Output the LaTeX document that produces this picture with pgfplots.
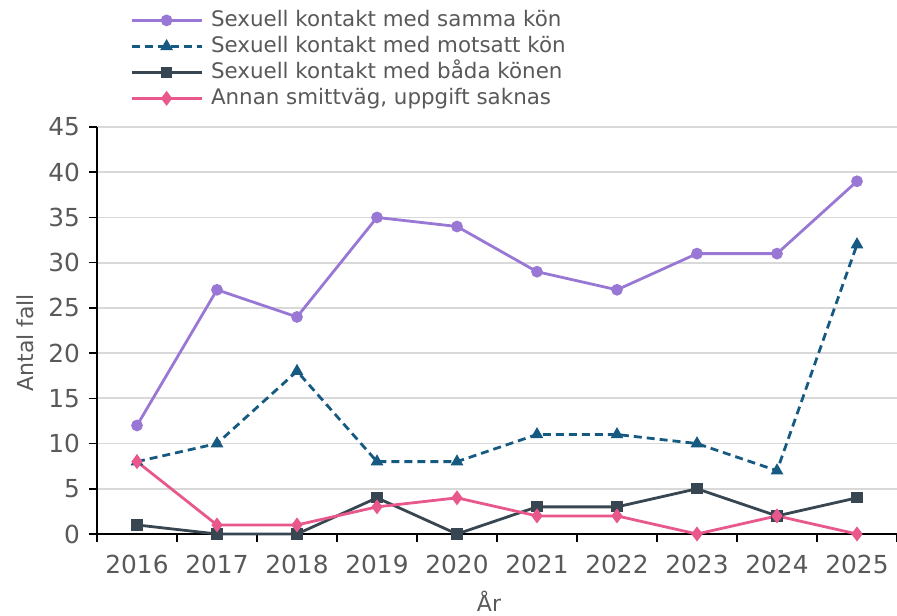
\documentclass[border=0pt]{standalone}
\usepackage{fontspec}
\setmainfont{DejaVu Sans}
\usepackage{pgfplots}
\pgfplotsset{compat=1.18}
\definecolor{samma}{RGB}{153,119,212}
\definecolor{motsatt}{RGB}{22,90,130}
\definecolor{bada}{RGB}{55,70,80}
\definecolor{annan}{RGB}{232,88,140}
\definecolor{txt}{RGB}{89,89,89}
\definecolor{gridc}{RGB}{217,217,217}

\begin{document}
\begin{tikzpicture}
\begin{axis}[
  scale only axis,
  width=400pt, height=203.5pt,
  xmin=-0.5, xmax=9.5,
  ymin=0, ymax=45,
  ytick={0,5,...,45},
  xtick={0,...,9},
  xticklabels={2016,2017,2018,2019,2020,2021,2022,2023,2024,2025},
  minor xtick={-0.5,0.5,...,9.5},
  major x tick style={draw=none},
  tick align=outside,
  tick style={black, line width=0.8pt},
  major tick length=4pt, minor tick length=4pt,
  axis x line*=bottom, axis y line*=left,
  axis line style={black, line width=0.9pt, -},
  ymajorgrids, grid style={gridc, line width=0.9pt},
  /pgf/number format/assume math mode=true,
  ticklabel style={font=\fontsize{12.4}{14}\selectfont, text=txt},
  xticklabel style={yshift=-3pt},
  yticklabel style={xshift=-1pt},
  xlabel={År}, ylabel={Antal fall},
  label style={font=\fontsize{11}{13}\selectfont, text=txt},
  xlabel style={at={(axis description cs:0.49,-0.165)}, anchor=center},
  ylabel style={at={(axis description cs:-0.09,0.47)}, anchor=center},
  legend style={draw=none, fill=none, at={(0.041,1.2875)}, anchor=north west,
    font=\fontsize{10.7}{13}\selectfont, text=txt, row sep=3pt, column sep=4pt,
    inner sep=0pt, nodes={inner sep=0pt, text height=8pt, text depth=2pt},
    legend cell align=left},
  legend image code/.code={
    \draw[#1, line width=1.4pt] (0pt,0pt) -- (35pt,0pt);
    \path[#1, solid] plot coordinates {(17.5pt,0pt)};},
  clip=false,
]
\addplot[samma, line width=1.4pt, mark=*, mark size=2.2pt]
  coordinates {(0,12)(1,27)(2,24)(3,35)(4,34)(5,29)(6,27)(7,31)(8,31)(9,39)};
\addplot[motsatt, line width=1.4pt, dash pattern=on 4pt off 2.5pt, mark=triangle*, mark size=2.3pt, mark options={solid}]
  coordinates {(0,8)(1,10)(2,18)(3,8)(4,8)(5,11)(6,11)(7,10)(8,7)(9,32)};
\addplot[bada, line width=1.4pt, mark=square*, mark size=2.1pt]
  coordinates {(0,1)(1,0)(2,0)(3,4)(4,0)(5,3)(6,3)(7,5)(8,2)(9,4)};
\addplot[annan, line width=1.4pt, mark=diamond*, mark size=2.6pt]
  coordinates {(0,8)(1,1)(2,1)(3,3)(4,4)(5,2)(6,2)(7,0)(8,2)(9,0)};
\legend{Sexuell kontakt med samma kön, Sexuell kontakt med motsatt kön, Sexuell kontakt med båda könen, {Annan smittväg, uppgift saknas}}
\end{axis}
\pgfresetboundingbox
\path (-48.5pt,-40.5pt) rectangle (400pt,267pt);
\end{tikzpicture}
\end{document}
